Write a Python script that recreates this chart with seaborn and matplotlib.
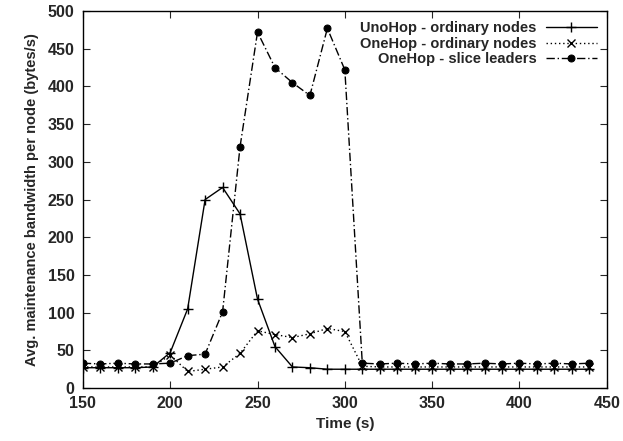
import matplotlib
matplotlib.use("Agg")
import matplotlib.pyplot as plt
import seaborn as sns
import pandas as pd

time = list(range(150, 450, 10))
unohop_ordinary = [27, 27, 27, 27, 28, 47, 105, 250, 266, 231, 118, 55, 28, 27, 25, 25,
                   25, 25, 25, 25, 25, 25, 25, 25, 25, 25, 25, 25, 25, 25]
onehop_ordinary = [28, 28, 28, 28, 28, 44, 22, 25, 28, 46, 76, 71, 67, 72, 79, 75,
                   29, 28, 28, 28, 28, 28, 28, 28, 28, 28, 28, 28, 28, 28]
onehop_leaders = [33, 32, 33, 32, 32, 33, 43, 45, 101, 320, 472, 425, 405, 388, 477, 422,
                  33, 32, 33, 32, 33, 32, 32, 33, 32, 33, 32, 33, 32, 33]
labels = ["UnoHop - ordinary nodes", "OneHop - ordinary nodes", "OneHop - slice leaders"]

sns.set_theme(style="ticks")
plt.rcParams['font.family'] = ['Liberation Sans', 'DejaVu Sans']
plt.rcParams['font.weight'] = 'bold'

fig = plt.figure(figsize=(6.23, 4.41), dpi=100)
ax = fig.add_axes([0.133, 0.12, 0.841, 0.855])

series = [unohop_ordinary, onehop_ordinary, onehop_leaders]
styles = [dict(marker="+", linestyle="-", markersize=7, markeredgewidth=1.0),
          dict(marker="x", linestyle=(0, (1, 2)), markersize=5.5, markeredgewidth=1.0),
          dict(marker="o", linestyle=(0, (6, 2, 1, 2)), markersize=5)]
for vals, lab, st in zip(series, labels, styles):
    df = pd.DataFrame({"t": time, "v": vals})
    sns.lineplot(data=df, x="t", y="v", ax=ax, color="black", linewidth=1.0,
                 label=lab, markeredgecolor="black", markerfacecolor="black", **st)

ax.set_xlim(150, 450)
ax.set_ylim(0, 500)
ax.set_xticks(range(150, 451, 50))
ax.set_yticks(range(0, 501, 50))
ax.tick_params(direction="in", top=True, right=True, length=5, width=0.8,
               labelsize=11.5)
ax.tick_params(axis="x", pad=6)
ax.tick_params(axis="y", pad=6)
for lab in ax.get_xticklabels() + ax.get_yticklabels():
    lab.set_fontweight("bold")
for s in ax.spines.values():
    s.set_visible(True)
    s.set_color("black")
    s.set_linewidth(1.0)
ax.set_xlabel("Time (s)", fontsize=11, fontweight="bold", labelpad=4)
ax.set_ylabel("Avg. maintenance bandwidth per node (bytes/s)", fontsize=10.5,
              fontweight="bold", labelpad=6)

leg = ax.legend(loc="upper right", frameon=False, markerfirst=False, fontsize=10.5,
                handlelength=3.5, borderaxespad=0.3, labelspacing=0.1, handletextpad=0.6)
for t in leg.get_texts():
    t.set_fontweight("bold")
    t.set_ha("right")
leg._legend_box.align = "right"

fig.savefig("out.png", dpi=100)
